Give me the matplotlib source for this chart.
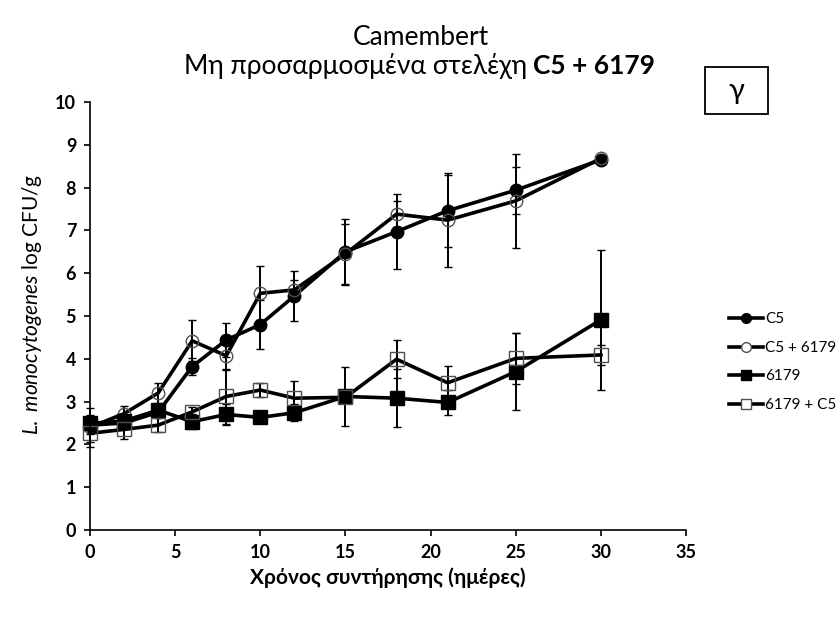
import matplotlib
matplotlib.use("Agg")
import matplotlib.pyplot as plt
from matplotlib.lines import Line2D
from matplotlib.patches import Rectangle

# === Fonts ===
plt.rcParams['font.family'] = ['Lato', 'DejaVu Sans']
plt.rcParams['mathtext.fontset'] = 'custom'
plt.rcParams['mathtext.rm'] = 'Lato'
plt.rcParams['mathtext.it'] = 'Lato:italic'

# === Data ===
days = [0, 2, 4, 6, 8, 10, 12, 15, 18, 21, 25, 30]

c5 = [2.45, 2.50, 2.75, 3.82, 4.44, 4.80, 5.47, 6.50, 6.97, 7.46, 7.94, 8.65]
c5_err = [0.20, 0.15, 0.10, 0.20, 0.40, 0.58, 0.58, 0.77, 0.87, 0.84, 0.55, 0.0]

c5_6179 = [2.40, 2.72, 3.20, 4.42, 4.07, 5.53, 5.61, 6.45, 7.38, 7.24, 7.69, 8.68]
c5_6179_err = [0.45, 0.18, 0.23, 0.48, 0.33, 0.63, 0.22, 0.70, 0.30, 1.10, 1.10, 0.0]

s6179 = [2.49, 2.55, 2.80, 2.53, 2.70, 2.63, 2.74, 3.12, 3.08, 2.98, 3.70, 4.91]
s6179_err = [0.20, 0.10, 0.10, 0.18, 0.25, 0.10, 0.20, 0.70, 0.67, 0.30, 0.90, 1.63]

s6179_c5 = [2.26, 2.35, 2.45, 2.76, 3.12, 3.27, 3.08, 3.10, 3.99, 3.44, 4.01, 4.09]
s6179_c5_err = [0.20, 0.23, 0.17, 0.12, 0.65, 0.17, 0.40, 0.10, 0.45, 0.40, 0.59, 0.23]

labels = ['C5', 'C5 + 6179', '6179', '6179 + C5']
markers = ['o', 'o', 's', 's']
filled = [True, False, True, False]

# === Figure ===
fig = plt.figure(figsize=(8.36, 6.17), dpi=100)
ax = fig.add_axes([0.1077, 0.141, 0.7129, 0.6937])

all_vals = [c5, c5_6179, s6179, s6179_c5]
all_err = [c5_err, c5_6179_err, s6179_err, s6179_c5_err]

for vals, err, mk, fill in zip(all_vals, all_err, markers, filled):
    ax.errorbar(days, vals, yerr=err, color='black', lw=2.6,
                marker=mk, ms=9 if mk == 'o' else 9.5,
                mfc='black' if fill else 'none',
                mec='black' if fill else '#505050', mew=1.0,
                ecolor='black', elinewidth=1.4, capsize=3.2, capthick=1.4,
                clip_on=False)

ax.set_xlim(0, 35)
ax.set_ylim(0, 10)
ax.set_xticks(range(0, 36, 5))
ax.set_yticks(range(0, 11))
ax.spines['top'].set_visible(False)
ax.spines['right'].set_visible(False)
for s in ['left', 'bottom']:
    ax.spines[s].set_linewidth(1.2)
ax.tick_params(direction='out', length=4, width=1.2, labelsize=13, pad=6)
for lbl in ax.get_xticklabels() + ax.get_yticklabels():
    lbl.set_fontweight('bold')

# axis labels
fig.text(0.038, 0.506, r'$\mathit{L.\ monocytogenes}$ log CFU/g',
         rotation=90, ha='center', va='center', fontsize=15)
fig.text(0.464, 0.063, 'Χρόνος συντήρησης (ημέρες)', ha='center', va='center',
         fontsize=15, fontweight='bold')

# title (two lines, second one mixed weight)
fig.text(0.503, 0.939, 'Camembert', ha='center', va='center', fontsize=19)
t1 = fig.text(0, 0.893, 'Μη προσαρμοσμένα στελέχη ', ha='left', va='center', fontsize=19)
t2 = fig.text(0, 0.893, 'C5 + 6179', ha='left', va='center', fontsize=19, fontweight='bold')
r = fig.canvas.get_renderer()
w1 = t1.get_window_extent(r).width
w2 = t2.get_window_extent(r).width
x0 = 419.5 - (w1 + w2) / 2
t1.set_x(x0 / 836)
t2.set_x((x0 + w1) / 836)

# panel letter box
fig.patches.append(Rectangle((0.8433, 0.8152), 0.0754, 0.0762, transform=fig.transFigure,
                             fill=False, edgecolor='black', lw=1.3))
fig.text(0.881, 0.852, 'γ', ha='center', va='center', fontsize=21)

# legend
handles = []
for mk, fill in zip(markers, filled):
    handles.append(Line2D([], [], color='black', lw=2.6, marker=mk, ms=7,
                          mfc='black' if fill else 'white',
                          mec='black' if fill else '#505050', mew=1.0))
fig.legend(handles, labels, loc='center left', bbox_to_anchor=(0.865, 0.413),
           frameon=False, fontsize=11, handlelength=2.2, handletextpad=0.15,
           labelspacing=0.95, borderaxespad=0)

fig.savefig('out.png', dpi=100)
